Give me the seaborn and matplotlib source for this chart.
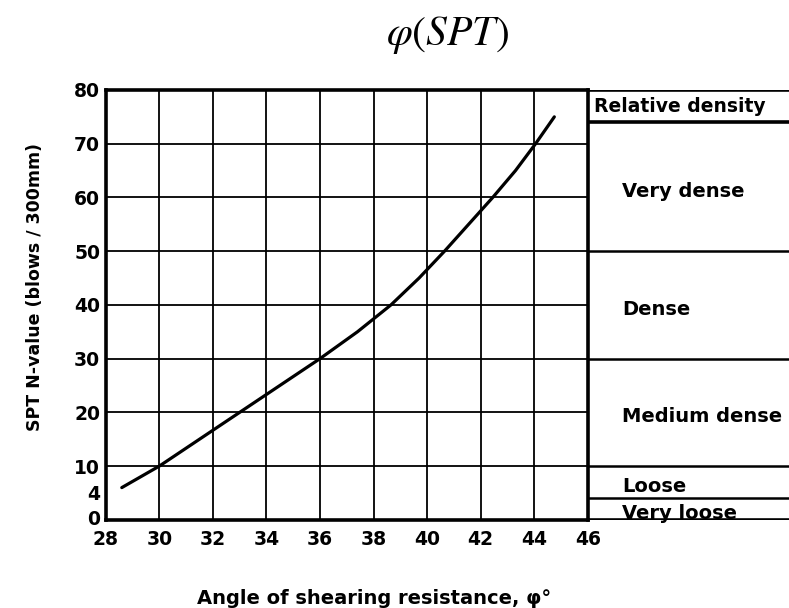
"""
Friction angle vs SPT N-value chart with relative density table
"""

import pandas as pd
import seaborn as sns
import matplotlib.pyplot as plt
import matplotlib.transforms as mtransforms

# Curve
phi_deg = [28.6, 30.0, 31.5, 33.0, 34.5, 36.0, 37.4, 38.65, 39.7, 40.65, 41.55, 42.45, 43.3, 44.05, 44.75]
spt_n = [6, 10, 15, 20, 25, 30, 35, 40, 45, 50, 55, 60, 65, 70, 75]

x_ticks = [28, 30, 32, 34, 36, 38, 40, 42, 44, 46]
y_ticks = [0, 4, 10, 20, 30, 40, 50, 60, 70, 80]
grid_x = [30, 32, 34, 36, 38, 40, 42, 44]
grid_y = [10, 20, 30, 40, 50, 60, 70]

# Relative density classes, boundaries in N
density_labels = ["Very dense", "Dense", "Medium dense", "Loose", "Very loose"]
density_bounds = [74, 50, 30, 10, 4, 0]
header_label = "Relative density"

sns.set_style("white")
plt.rcParams["font.family"] = ["DejaVu Sans"]
plt.rcParams["mathtext.fontset"] = "stix"
for key in ["text.color", "axes.labelcolor", "xtick.color", "ytick.color"]:
    plt.rcParams[key] = "black"

fig = plt.figure(figsize=(7.89, 6.08), dpi=100)
ax = fig.add_axes([0.134, 0.145, 0.611, 0.707])
ax_tab = fig.add_axes([0.745, 0.145, 0.27, 0.707])

df = pd.DataFrame({"phi": phi_deg, "N": spt_n})
sns.lineplot(data=df, x="phi", y="N", sort=False, color="black", linewidth=2.3, ax=ax)

for gx in grid_x:
    ax.axvline(gx, color="black", linewidth=1.3, zorder=0)
for gy in grid_y:
    ax.axhline(gy, color="black", linewidth=1.3, zorder=0)

ax.set_xlim(28, 46)
ax.set_ylim(0, 80)
ax.set_xticks(x_ticks)
ax.set_yticks(y_ticks)
ax.set_xticklabels([str(t) for t in x_ticks], fontsize=13.5, fontweight="bold")
ax.set_yticklabels([str(t) for t in y_ticks], fontsize=13.5, fontweight="bold")
ax.tick_params(axis="x", length=0, pad=7)
ax.tick_params(axis="y", length=0, pad=4)
# spread the crowded "0" and "4" labels a little
for lab, dy in zip(ax.get_yticklabels()[:2], [1.5, 4.5]):
    lab.set_transform(lab.get_transform()
                      + mtransforms.ScaledTranslation(0, dy / 72, fig.dpi_scale_trans))
for sp in ax.spines.values():
    sp.set_visible(True)
    sp.set_color("black")
    sp.set_linewidth(2.6)

ax.set_xlabel("Angle of shearing resistance, φ°", fontsize=14, fontweight="bold")
ax.xaxis.set_label_coords(0.556, -0.16)
ax.set_ylabel("SPT N-value (blows / 300mm)", fontsize=12.5, fontweight="bold")
ax.yaxis.set_label_coords(-0.128, 0.542)

# Relative density table
ax_tab.set_xlim(0, 1)
ax_tab.set_ylim(0, 80)
ax_tab.axis("off")
ax_tab.axhline(80, color="black", linewidth=2.6)
for b in density_bounds:
    ax_tab.axhline(b, color="black", linewidth=2.6 if b in (74, 0) else 1.8)
ax_tab.text(0.03, 77, header_label, fontsize=13.5, fontweight="bold", va="center", ha="left")
for lab, hi, lo in zip(density_labels, density_bounds[:-1], density_bounds[1:]):
    ax_tab.text(0.16, (hi + lo) / 2 - 0.8, lab, fontsize=14, fontweight="bold",
                va="center", ha="left")

fig.text(0.567, 0.942, r"$\varphi(SPT)$", fontsize=30, ha="center", va="center")

fig.savefig("out.png", dpi=100)
